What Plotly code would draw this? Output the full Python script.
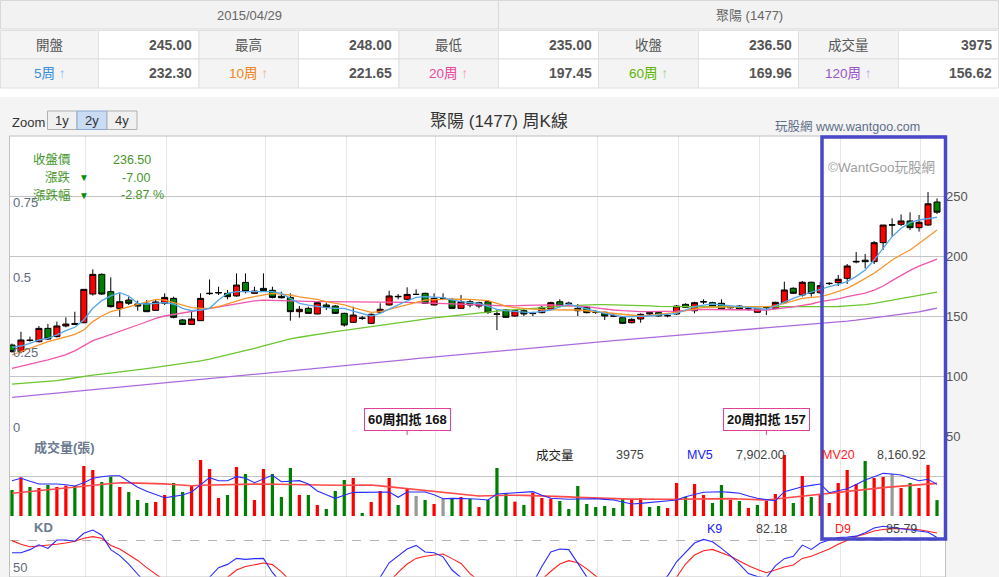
import plotly.graph_objects as go

W, H = 999, 577
FONT = "Liberation Sans, Noto Sans CJK TC, sans-serif"

# weekly candles (2 years, last week = 2015/04/29)
opens = [125.8, 120.3, 130.0, 128.6, 139.7, 132.8, 141.7, 143.8, 144.4, 168.3,
         184.7, 170.3, 156.4, 163.3, 160.0, 160.6, 154.7, 160.6, 164.7, 146.7,
         143.0, 146.1, 168.6, 169.2, 168.9, 166.7, 178.0, 168.9, 173.0, 171.4,
         166.4, 165.5, 153.6, 156.4, 151.7, 159.2, 158.3, 152.2, 144.7, 148.3,
         143.9, 153.1, 159.2, 166.4, 163.9, 168.0, 168.9, 159.2, 164.7, 163.9,
         156.4, 161.9, 158.3, 161.9, 151.4, 155.0, 150.0, 154.4, 152.0, 152.8,
         155.6, 161.9, 160.4, 156.4, 157.2, 153.3, 153.1, 150.2, 148.6, 144.4,
         147.5, 151.7, 152.8, 150.2, 151.7, 159.7, 154.4, 161.7, 161.1, 160.6,
         157.8, 158.3, 155.8, 153.1, 157.0, 156.4, 161.1, 173.1, 167.5, 178.1,
         169.4, 177.0, 177.8, 181.4, 195.0, 196.5, 195.3, 211.1, 226.0, 226.4,
         229.2, 223.6, 225.8, 245.0]
highs = [127.0, 136.9, 132.8, 141.7, 143.3, 145.3, 148.9, 153.6, 172.5, 188.9,
         185.5, 182.2, 168.9, 166.1, 162.8, 163.3, 163.3, 168.9, 166.1, 147.5,
         153.6, 168.9, 180.5, 174.4, 171.7, 185.5, 185.5, 174.4, 185.5, 174.4,
         170.3, 168.9, 158.3, 157.8, 161.9, 161.1, 159.2, 152.8, 157.8, 150.0,
         152.2, 160.6, 171.1, 168.3, 173.9, 172.2, 169.4, 168.9, 168.9, 164.7,
         167.5, 163.3, 161.9, 163.3, 155.0, 155.6, 155.0, 155.6, 153.6, 158.3,
         161.9, 163.9, 161.9, 160.0, 158.3, 155.0, 153.6, 151.7, 149.4, 148.1,
         152.2, 153.6, 153.6, 151.4, 159.2, 160.6, 161.9, 163.9, 161.9, 163.9,
         158.3, 158.9, 157.2, 156.4, 157.8, 161.9, 178.6, 173.9, 179.2, 178.6,
         178.6, 178.1, 184.2, 193.3, 203.3, 201.7, 212.5, 225.8, 231.4, 234.7,
         236.4, 234.2, 253.3, 248.0]
lows = [119.5, 118.9, 128.6, 128.0, 130.0, 132.2, 140.5, 142.5, 144.0, 167.0,
        167.5, 157.0, 149.4, 159.2, 154.4, 153.6, 154.4, 159.2, 148.0, 142.5,
        142.8, 146.0, 167.5, 167.5, 163.9, 166.1, 168.9, 168.3, 170.3, 164.7,
        164.7, 146.1, 148.6, 151.7, 151.4, 155.0, 151.7, 141.1, 144.4, 146.7,
        143.3, 152.2, 158.6, 163.9, 163.3, 168.0, 160.0, 158.6, 163.3, 155.8,
        155.8, 157.2, 156.4, 151.7, 138.3, 148.3, 149.4, 150.0, 150.0, 152.2,
        155.0, 157.2, 158.3, 150.0, 152.2, 151.7, 146.7, 149.4, 143.3, 143.9,
        144.4, 151.0, 149.4, 148.9, 150.8, 157.2, 152.2, 160.0, 157.8, 155.0,
        156.1, 155.0, 154.4, 152.8, 150.8, 155.6, 160.6, 168.9, 166.1, 166.1,
        168.3, 175.8, 175.0, 176.7, 193.9, 189.7, 193.3, 205.0, 216.1, 225.0,
        221.7, 220.3, 225.3, 235.0]
closes = [120.3, 130.0, 129.6, 139.7, 130.8, 141.7, 143.3, 143.0, 172.2, 184.7,
          168.3, 157.8, 161.9, 160.6, 158.3, 153.6, 161.7, 165.5, 148.9, 143.0,
          147.5, 164.7, 168.9, 169.5, 166.1, 175.8, 170.3, 170.8, 171.1, 165.5,
          165.2, 153.6, 155.6, 152.2, 161.1, 157.2, 152.2, 142.5, 150.8, 148.1,
          151.4, 155.6, 166.7, 166.1, 168.0, 168.0, 160.6, 164.7, 164.7, 156.4,
          161.9, 159.2, 161.1, 153.1, 151.7, 148.9, 154.4, 151.7, 152.2, 157.2,
          161.1, 158.3, 160.6, 154.4, 152.8, 153.1, 150.0, 150.0, 143.9, 147.2,
          151.4, 152.8, 150.0, 150.3, 158.3, 157.2, 161.1, 161.9, 158.3, 155.6,
          156.9, 155.6, 155.9, 156.4, 157.0, 161.4, 171.7, 168.9, 178.1, 168.9,
          175.3, 177.2, 180.6, 191.7, 195.5, 195.3, 211.1, 225.8, 225.8, 229.2,
          223.6, 228.1, 243.5, 236.5]

ma5 = [123.9, 125.0, 127.2, 130.0, 131.4, 134.2, 137.8, 140.6, 146.7, 156.4,
       162.8, 166.7, 169.4, 166.7, 160.6, 160.0, 160.6, 161.1, 160.0, 156.4,
       154.4, 155.0, 156.4, 163.3, 168.9, 170.3, 170.3, 170.3, 170.3, 170.3,
       168.9, 164.5, 160.6, 159.0, 157.8, 157.0, 156.4, 156.4, 154.0, 152.2,
       150.0, 152.2, 156.0, 159.2, 162.5, 165.6, 166.1, 165.8, 165.3, 163.5,
       161.9, 161.2, 160.6, 158.0, 155.6, 154.5, 153.6, 153.2, 152.8, 153.6,
       155.0, 157.5, 160.0, 157.8, 155.6, 154.0, 152.2, 150.8, 149.4, 149.4,
       149.4, 150.0, 150.8, 151.5, 152.2, 155.0, 157.8, 159.0, 160.0, 159.2,
       158.3, 157.8, 157.2, 156.4, 155.6, 158.5, 161.9, 164.7, 167.5, 169.9,
       172.2, 174.4, 176.4, 178.6, 183.0, 188.3, 196.7, 206.4, 216.1, 223.1,
       227.8, 230.0, 231.4, 232.30]
ma10 = [117.5, 120.3, 123.0, 125.8, 128.6, 130.6, 132.8, 134.7, 138.3, 145.3,
        150.0, 153.6, 155.6, 157.8, 160.0, 161.9, 163.9, 163.3, 161.1, 159.2,
        156.9, 156.4, 156.4, 157.8, 160.0, 162.8, 164.7, 166.1, 167.5, 168.9,
        168.3, 167.5, 166.0, 165.0, 163.9, 162.0, 160.5, 159.2, 157.0, 155.0,
        153.1, 153.6, 155.5, 157.5, 159.2, 161.5, 163.3, 163.6, 163.9, 164.0,
        164.0, 163.9, 163.5, 162.8, 160.5, 158.3, 157.0, 156.2, 155.8, 155.3,
        155.0, 155.0, 155.0, 155.0, 154.2, 153.5, 152.8, 152.0, 151.2, 150.5,
        150.0, 150.5, 151.2, 152.0, 153.0, 154.5, 156.0, 157.2, 157.4, 157.4,
        157.2, 157.2, 157.4, 157.6, 157.8, 158.5, 160.6, 162.5, 164.7, 165.5,
        166.1, 168.0, 170.5, 173.1, 177.0, 181.0, 185.6, 191.0, 196.7, 201.0,
        205.0, 210.5, 216.1, 221.65]
ma20 = [106.4, 108.0, 109.7, 111.5, 113.4, 115.5, 117.8, 121.0, 125.0, 129.5,
        132.0, 134.5, 137.0, 139.8, 142.5, 145.2, 148.0, 150.0, 151.3, 152.5,
        153.8, 155.0, 156.3, 157.6, 159.0, 160.4, 161.6, 162.6, 163.3, 163.0,
        162.8, 162.6, 162.3, 162.1, 162.0, 161.9, 161.9, 161.8, 161.7, 161.6,
        161.5, 161.4, 161.4, 161.4, 161.3, 161.1, 160.9, 160.7, 160.5, 160.3,
        160.1, 160.0, 159.6, 159.0, 158.6, 158.3, 158.5, 158.8, 159.0, 159.2,
        159.2, 158.9, 158.6, 158.2, 157.8, 156.8, 155.6, 155.0, 154.4, 153.9,
        153.6, 153.6, 153.6, 153.6, 154.0, 154.6, 155.1, 155.6, 155.4, 155.2,
        155.1, 155.0, 155.0, 155.0, 155.0, 155.8, 156.4, 157.6, 158.8, 160.0,
        161.9, 162.9, 164.3, 166.1, 167.6, 169.0, 171.5, 175.0, 179.5, 184.0,
        188.0, 191.5, 194.5, 197.45]
ma60 = [93.3, 93.8, 94.2, 94.7, 95.2, 96.2, 97.3, 98.5, 100.0, 100.8,
        101.6, 102.4, 103.2, 104.2, 105.2, 106.2, 107.2, 108.2, 109.2, 110.2,
        111.2, 112.6, 114.1, 115.8, 117.5, 119.3, 121.1, 123.0, 125.2, 127.3,
        129.3, 130.9, 132.3, 133.6, 134.8, 135.9, 137.0, 138.1, 139.2, 140.3,
        141.3, 142.3, 143.4, 144.4, 145.4, 146.4, 147.4, 148.4, 149.3, 150.1,
        150.9, 151.7, 152.5, 153.3, 154.1, 154.8, 155.4, 155.9, 156.4, 156.9,
        157.4, 157.9, 158.4, 158.9, 159.3, 159.4, 159.4, 159.3, 159.2, 159.0,
        158.7, 158.4, 158.1, 157.9, 157.8, 157.7, 157.7, 157.7, 157.7, 157.7,
        157.7, 157.7, 157.7, 157.7, 157.7, 157.6, 157.5, 157.4, 157.3, 157.3,
        157.3, 157.5, 157.9, 158.4, 158.9, 159.5, 160.6, 161.9, 163.3, 164.6,
        165.9, 167.2, 168.6, 169.96]
ma120 = [82.2, 82.9, 83.6, 84.3, 85.0, 85.8, 86.5, 87.2, 87.9, 88.6,
         89.3, 90.0, 90.7, 91.4, 92.1, 92.8, 93.6, 94.3, 95.0, 95.7,
         96.4, 97.1, 97.8, 98.5, 99.2, 99.9, 100.7, 101.4, 102.1, 102.8,
         103.5, 104.2, 104.9, 105.6, 106.3, 107.0, 107.8, 108.5, 109.2, 109.9,
         110.6, 111.4, 112.1, 112.9, 113.6, 114.4, 115.1, 115.9, 116.6, 117.4,
         118.1, 118.9, 119.6, 120.2, 120.9, 121.6, 122.3, 122.9, 123.6, 124.3,
         125.0, 125.6, 126.3, 126.9, 127.6, 128.2, 128.8, 129.5, 130.1, 130.8,
         131.4, 132.0, 132.7, 133.3, 133.9, 134.5, 135.2, 135.8, 136.4, 137.0,
         137.7, 138.3, 138.9, 139.5, 140.0, 140.6, 141.2, 141.8, 142.4, 142.9,
         143.5, 144.1, 144.9, 145.8, 146.6, 147.5, 148.4, 149.3, 150.3, 151.3,
         152.4, 153.5, 155.0, 156.62]

# volume (張) and its colour: u = up, d = down, n = flat
volume = [6500, 9670, 7250, 7000, 7750, 7250, 7580, 7500, 12500, 11500,
          8500, 9830, 7250, 6000, 4000, 3250, 3500, 5250, 8250, 6000,
          7500, 14000, 11750, 4500, 5250, 12250, 10500, 4000, 11750, 10500,
          4750, 12000, 5250, 5250, 2750, 1750, 6250, 9000, 9500, 750,
          3500, 6250, 9500, 2750, 6750, 5000, 4000, 3000, 4250, 4500,
          4750, 4250, 2250, 4000, 12000, 5500, 3580, 2750, 5830, 4500,
          4330, 3750, 1750, 7500, 3000, 2250, 2500, 2000, 4250, 4000,
          4500, 2250, 2500, 2000, 8250, 4750, 8000, 5250, 3250, 7750,
          4000, 3750, 2000, 2750, 3750, 5500, 15250, 3250, 10000, 4750,
          5500, 3250, 8250, 11500, 8000, 13750, 9500, 9750, 10500, 7000,
          8250, 7000, 12750, 3975]
vol_dir = ("d u d u d u u d u u  d d u d d d u u d d  u u u u d u d u u d  "
           "d d u d u d d d u d  u u u d u n d u n d  u d u d d d u d u u  "
           "u d d d d d d d d u  u d d u u d u u d d  u d u d u u u d u d  "
           "u u u u u d u u n u  d u u d").split()
mv5 = [8830, 9420, 8700, 8000, 8000, 8000, 7800, 7500, 8330, 9420,
       9800, 10080, 10080, 8700, 7170, 6200, 5420, 4580, 4900, 5250,
       6000, 7800, 9580, 8830, 8830, 9830, 9420, 8330, 9250, 10160,
       8580, 8700, 8830, 8000, 6250, 5300, 4420, 5200, 5920, 5900,
       5920, 5950, 6000, 4670, 6000, 6000, 6000, 5330, 4330, 4400,
       4420, 4300, 4170, 4000, 5500, 5670, 5800, 5950, 6080, 5200,
       4420, 4300, 4170, 4250, 4300, 4330, 4150, 4000, 3500, 3000,
       3150, 3330, 3550, 3780, 4000, 4830, 5400, 5920, 6000, 6080,
       5900, 5670, 5000, 4420, 4100, 3830, 6080, 6700, 7330, 7650,
       8000, 5830, 6300, 6830, 7900, 9000, 9800, 10660, 10500, 10250,
       9500, 8830, 9170, 7902.00]
mv20 = [5670, 5870, 6070, 6270, 6470, 6670, 6920, 7170, 7420, 7670,
        7890, 8110, 8330, 8290, 8250, 8210, 8170, 8020, 7870, 7730,
        7580, 7670, 7750, 7840, 7920, 7940, 7960, 7980, 8000, 7940,
        7880, 7810, 7750, 7730, 7710, 7690, 7670, 7690, 7710, 7730,
        7750, 7520, 7290, 7060, 6830, 6620, 6420, 6210, 6000, 5750,
        5500, 5250, 5000, 5080, 5170, 5250, 5200, 5150, 5100, 5050,
        5000, 4880, 4770, 4650, 4540, 4420, 4370, 4320, 4270, 4220,
        4170, 4170, 4170, 4170, 4170, 4220, 4270, 4320, 4370, 4420,
        4340, 4260, 4170, 4090, 4000, 4250, 4500, 4750, 5000, 5250,
        5500, 5730, 5970, 6200, 6430, 6670, 6880, 7090, 7290, 7500,
        7670, 7840, 8000, 8160.92]

# KD(9)
k9 = [69.4, 69.4, 72.0, 76.0, 73.0, 80.0, 80.0, 79.0, 85.6, 88.3,
      84.0, 72.0, 67.0, 60.0, 51.5, 42.0, 35.0, 30.0, 25.0, 20.0,
      24.0, 36.0, 49.0, 57.0, 59.7, 64.7, 63.9, 64.5, 64.7, 53.0,
      42.0, 35.0, 30.0, 27.0, 30.0, 28.0, 25.0, 18.0, 20.0, 25.0,
      35.0, 49.0, 61.0, 67.0, 72.5, 75.5, 70.0, 69.4, 66.0, 55.0,
      48.0, 42.0, 36.0, 30.0, 26.0, 22.0, 25.0, 30.0, 44.0, 58.0,
      70.0, 72.5, 72.0, 59.5, 47.0, 38.0, 30.0, 25.0, 20.0, 22.0,
      28.0, 36.0, 44.0, 50.0, 61.9, 70.0, 77.5, 80.5, 78.6, 73.0,
      67.0, 60.0, 52.0, 49.5, 48.5, 58.5, 64.5, 66.5, 75.8, 72.2,
      77.5, 80.0, 82.0, 82.5, 83.2, 86.0, 90.0, 91.5, 90.5, 89.5,
      88.0, 86.9, 86.5, 82.18]
d9 = [79.5, 76.5, 74.4, 75.0, 75.8, 76.5, 77.5, 79.0, 81.4, 82.8,
      81.5, 75.5, 72.5, 68.0, 63.0, 57.0, 51.5, 47.0, 42.0, 35.0,
      30.0, 32.0, 38.0, 44.0, 49.0, 55.0, 58.0, 59.5, 60.8, 59.5,
      53.5, 46.0, 40.0, 36.0, 33.0, 31.0, 29.0, 25.0, 23.0, 24.0,
      30.0, 38.0, 45.0, 53.0, 60.0, 64.7, 66.5, 67.5, 68.3, 64.5,
      60.5, 52.0, 45.0, 40.0, 35.0, 30.0, 28.0, 29.0, 35.0, 47.0,
      54.0, 60.0, 62.8, 61.0, 56.0, 50.0, 44.0, 38.0, 32.0, 28.0,
      27.0, 30.0, 36.0, 43.0, 49.0, 60.0, 67.5, 71.0, 72.2, 69.5,
      66.5, 62.5, 58.5, 55.5, 52.8, 55.0, 57.5, 59.2, 64.7, 66.5,
      69.5, 72.5, 76.5, 80.0, 83.0, 85.0, 87.5, 88.7, 89.5, 89.6,
      89.2, 88.5, 87.3, 85.79]

quote_date = "2015/04/29"
stock_name = "聚陽 (1477)"
quote_labels = ["開盤", "最高", "最低", "收盤", "成交量"]
ma_labels = ["5周", "10周", "20周", "60周", "120周"]
grid_weeks = [8.2, 17.2, 28.2, 37.2, 47.2, 56.2, 65.2, 74.2, 83.2, 92.2, 101.2]

ma_colors = ["#55a8e8", "#f7952a", "#f056ac", "#6cc630", "#ab6ade"]
label_colors = ["#3a8ee0", "#f08522", "#e8489f", "#5cb400", "#9a55cf"]
arrow_colors = ["#8bbcec", "#f5b27a", "#f29acb", "#9bd27d", "#c7a0e8"]
bar_colors = {"u": "#ff0000", "d": "#008000", "n": "#999999"}

weeks = list(range(len(closes)))
n = len(closes)


def px(x):
    return x / W


def py(y):
    return 1 - y / H


fig = go.Figure()

fig.add_trace(go.Candlestick(
    x=weeks, open=opens, high=highs, low=lows, close=closes,
    increasing=dict(line=dict(color="#000000", width=1), fillcolor="#ff0000"),
    decreasing=dict(line=dict(color="#000000", width=1), fillcolor="#008000"),
    whiskerwidth=0, hoverinfo="skip", showlegend=False))

for vals, col in zip([ma120, ma60, ma20, ma10, ma5], ma_colors[::-1]):
    fig.add_trace(go.Scatter(x=weeks, y=vals, mode="lines",
                             line=dict(color=col, width=1.3),
                             hoverinfo="skip", showlegend=False))

# empty series so the left 0..1 axis gets drawn
fig.add_trace(go.Scatter(x=[None], y=[None], yaxis="y2", showlegend=False))

fig.add_trace(go.Bar(x=weeks, y=volume, width=0.36,
                     marker=dict(color=[bar_colors[d] for d in vol_dir], line=dict(width=0)),
                     xaxis="x2", yaxis="y3", hoverinfo="skip", showlegend=False))
fig.add_trace(go.Scatter(x=weeks, y=mv20, mode="lines", line=dict(color="#ff4a4a", width=1.6),
                         xaxis="x2", yaxis="y3", hoverinfo="skip", showlegend=False))
fig.add_trace(go.Scatter(x=weeks, y=mv5, mode="lines", line=dict(color="#2b2bff", width=1.1),
                         xaxis="x2", yaxis="y3", hoverinfo="skip", showlegend=False))

fig.add_trace(go.Scatter(x=weeks, y=d9, mode="lines", line=dict(color="#ff2020", width=1.1),
                         xaxis="x3", yaxis="y4", hoverinfo="skip", showlegend=False))
fig.add_trace(go.Scatter(x=weeks, y=k9, mode="lines", line=dict(color="#2b2bff", width=1.1),
                         xaxis="x3", yaxis="y4", hoverinfo="skip", showlegend=False))

xcommon = dict(domain=[px(10), px(945)], range=[-0.22, 103.89], tickvals=grid_weeks,
               showticklabels=False, ticks="", showgrid=True, gridcolor="#e6e6e6",
               zeroline=False, showline=False, fixedrange=True)
left_font = dict(family=FONT, size=13, color="#606a80")

fig.update_layout(
    width=W, height=H,
    margin=dict(l=0, r=0, t=0, b=0, pad=0),
    paper_bgcolor="#f4f4f4", plot_bgcolor="white",
    font=dict(family=FONT),
    showlegend=False, hovermode=False, dragmode=False,
    boxgap=0.33, boxgroupgap=0,
    xaxis=dict(**xcommon, anchor="y", rangeslider=dict(visible=False)),
    xaxis2=dict(**xcommon, anchor="y3"),
    xaxis3=dict(**xcommon, anchor="y4"),
    yaxis=dict(domain=[py(437), py(136)], range=[49.17, 300], side="right",
               tickvals=[50, 100, 150, 200, 250], ticks="", showgrid=True,
               gridcolor="#c4c4c4", zeroline=False, showline=False, automargin=False,
               tickfont=dict(family=FONT, size=13, color="#555555"), fixedrange=True),
    yaxis2=dict(overlaying="y", side="left", anchor="x", range=[0, 1],
                tickvals=[0, 0.25, 0.5, 0.75], ticktext=["0", "0.25", "0.5", "0.75"],
                ticklabelposition="inside top", ticks="", showgrid=False,
                zeroline=False, showline=False, automargin=False, tickfont=left_font,
                fixedrange=True),
    yaxis3=dict(domain=[py(516), py(437)], range=[0, 19750], anchor="x2",
                tickvals=[0, 10000], showticklabels=False, ticks="", showgrid=True,
                gridcolor="#c4c4c4", zeroline=False, showline=False, fixedrange=True),
    yaxis4=dict(domain=[0, py(516)], range=[49.2, 100], anchor="x3", side="left",
                tickvals=[50, 80], ticktext=["50", ""], ticklabelposition="inside top",
                ticks="", showgrid=True, gridcolor="#b4b4b4", griddash="dash",
                zeroline=False, showline=False, automargin=False, tickfont=left_font,
                fixedrange=True),
)

shapes = []


def box(x0, y0, x1, y1, fill=None, line="#d8d8d8", width=1, layer="below"):
    shapes.append(dict(type="rect", xref="paper", yref="paper",
                       x0=px(x0), x1=px(x1), y0=py(y1), y1=py(y0),
                       fillcolor=fill if fill else "rgba(0,0,0,0)",
                       line=dict(color=line, width=width), layer=layer))


# quote table on top
box(0, 0, 999, 97, fill="white", width=0)
box(0.5, 0.5, 498.5, 29, fill="#f2f2f2")
box(498.5, 0.5, 998.5, 29, fill="#f2f2f2")
cols = [0.5, 98.5, 199, 298.5, 399, 498.5, 598.5, 698.5, 798.5, 898.5, 998.5]
for r0, r1 in [(30.5, 59), (59, 88)]:
    for j in range(10):
        box(cols[j], r0, cols[j + 1], r1, fill="#f4f4f4" if j % 2 == 0 else "white",
            line="#e0e0e0")

# zoom buttons
box(47.5, 111, 77, 129.5, fill="#f0f0f0", line="#b0b0b0")
box(77, 111, 107, 129.5, fill="#cadcf3", line="#8aa8d0")
box(107, 111, 137, 129.5, fill="#f0f0f0", line="#b0b0b0")

# plot frame and highlight box
box(9.5, 136, 945.5, 577, line="#c0c0c0", layer="above")
box(822, 137, 945.5, 539, line="#4848c8", width=3.5, layer="above")
fig.update_layout(shapes=shapes)


def label(x, y, text, size=13, color="#333333", anchor="center", bold=False):
    if bold:
        text = "<b>" + text + "</b>"
    fig.add_annotation(x=px(x), y=py(y), xref="paper", yref="paper", text=text,
                       showarrow=False, xanchor=anchor, yanchor="middle",
                       font=dict(family=FONT, size=size, color=color))


label(249, 15, quote_date, 13, "#666666")
label(749, 15, stock_name, 13, "#666666")

last = n - 1
row2 = [opens[last], highs[last], lows[last], closes[last], volume[last]]
row3 = [ma5[last], ma10[last], ma20[last], ma60[last], ma120[last]]
for j in range(5):
    cx = (cols[2 * j] + cols[2 * j + 1]) / 2
    right = cols[2 * j + 2] - 5
    label(cx, 45, quote_labels[j], 13.5, "#555555")
    val = "%d" % row2[j] if j == 4 else "%.2f" % row2[j]
    label(right, 45, val, 14, "#555555", "right", True)
    label(cx, 73, ma_labels[j] + ' <span style="color:%s">↑</span>' % arrow_colors[j],
          13.5, label_colors[j])
    label(right, 73, "%.2f" % row3[j], 14, "#555555", "right", True)

label(10, 122, "Zoom", 13, "#333333", "left")
label(62, 120.5, "1y", 13)
label(92, 120.5, "2y", 13)
label(122, 120.5, "4y", 13)
label(499, 121, stock_name + " 周K線", 17, "#333333")
label(773, 126.5, "玩股網 www.wantgoo.com", 12.5, "#5d6d8a", "left")
label(826, 167, "©WantGoo玩股網", 13.5, "#a0a0a0", "left")

chg = closes[last] - closes[last - 1]
pct = chg / closes[last - 1] * 100
green = "#46962a"
label(73, 160, "收盤價", 12.5, green, "right")
label(153, 160, "%.2f" % closes[last], 12.5, green, "right")
label(73, 177.5, "漲跌", 12.5, green, "right")
label(84, 177.5, "▼", 10, "#0a8a0a")
label(153, 177.5, "%.2f" % chg, 12.5, green, "right")
label(73, 195, "漲跌幅", 12.5, green, "right")
label(84, 195, "▼", 10, "#0a8a0a")
label(166, 195, "%.2f %%" % pct, 12.5, green, "right")

label(32, 447, "成交量(張)", 13, "#6b7a8f", "left", True)
label(555, 455, "成交量", 12.5, "#222222")
label(630, 455, "%d" % volume[last], 12.5, "#444444")
label(700, 455, "MV5", 12.5, "#2020ff")
label(760.5, 455, "{:,.2f}".format(mv5[last]), 12.5, "#444444")
label(838.5, 455, "MV20", 12.5, "#ff2020")
label(901.5, 455, "{:,.2f}".format(mv20[last]), 12.5, "#444444")

label(32, 527, "KD", 13, "#6b7a8f", "left", True)
label(714, 529, "K9", 12.5, "#2020ff")
label(771, 529, "%.2f" % k9[last], 12.5, "#444444")
label(843, 529, "D9", 12.5, "#ff2020")
label(901, 529, "%.2f" % d9[last], 12.5, "#444444")

# 扣抵 markers (60 and 20 weeks back)
for back in [60, 20]:
    i = n - back
    fig.add_annotation(x=i, y=py(435), xref="x", yref="paper",
                       text="<b>%d周扣抵 %d</b>" % (back, round(closes[i])),
                       showarrow=True, arrowhead=0, arrowwidth=1, arrowcolor="#e0409a",
                       ax=0, ay=-16, standoff=0, bordercolor="#e0409a", borderwidth=1,
                       borderpad=3, bgcolor="white",
                       font=dict(family=FONT, size=13, color="#111111"))

fig.write_html("out.html", config={"displayModeBar": False},
               post_script="document.body.style.margin='0';document.body.style.overflow='hidden';")
